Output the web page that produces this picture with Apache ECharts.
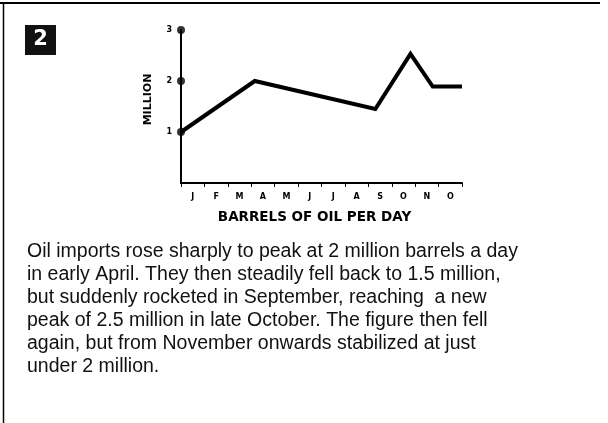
<!DOCTYPE html>
<html>
<head>
<meta charset="utf-8">
<script src="https://cdn.jsdelivr.net/npm/echarts@6/dist/echarts.min.js"></script>
<style>
  html, body { margin: 0; padding: 0; background: #fff; }
  #chart { width: 608px; height: 423px; }
</style>
</head>
<body>
<div id="chart"></div>
<script>
// month initials on the x axis
var months = ['J', 'F', 'M', 'A', 'M', 'J', 'J', 'A', 'S', 'O', 'N', 'O']
// line points: position in months from start of January, value in million barrels
var pointMonths = [0, 3.15, 8.3, 9.8, 10.75, 12]
var pointValues = [1, 2, 1.45, 2.53, 1.89, 1.89]
// dots on the y axis
var yDots = [1, 2, 3]
var figureNumber = '2'
var caption = [
  'Oil imports rose sharply to peak at 2 million barrels a day',
  'in early April. They then steadily fell back to 1.5 million,',
  'but suddenly rocketed in September, reaching  a new',
  'peak of 2.5 million in late October. The figure then fell',
  'again, but from November onwards stabilized at just',
  'under 2 million.'
]

var chart = echarts.init(document.getElementById('chart'))

var lineData = pointMonths.map(function (m, i) { return [m, pointValues[i]] })
var dotData = yDots.map(function (v) { return [0, v] })

var option = {
  animation: false,
  backgroundColor: '#fff',
  grid: { left: 181, right: 146, top: 30, bottom: 240 },
  xAxis: [
    {
      type: 'category',
      data: months,
      boundaryGap: true,
      axisLine: { lineStyle: { color: '#000', width: 2 } },
      axisTick: { show: true, length: 4, lineStyle: { color: '#000', width: 1 } },
      axisLabel: {
        color: '#000',
        fontSize: 8,
        fontWeight: 'bold',
        fontFamily: 'DejaVu Sans',
        margin: 10
      },
      name: 'BARRELS OF OIL PER DAY',
      nameLocation: 'middle',
      nameGap: 27,
      nameTextStyle: {
        color: '#000',
        fontSize: 13.5,
        fontWeight: 'bold',
        fontFamily: 'DejaVu Sans',
        padding: [0, 14, 0, 0]
      }
    },
    {
      type: 'value',
      min: 0,
      max: 12,
      show: false
    }
  ],
  yAxis: {
    type: 'value',
    min: 0,
    max: 3,
    interval: 1,
    axisLine: { show: true, lineStyle: { color: '#000', width: 2 } },
    axisTick: { show: false },
    splitLine: { show: false },
    axisLabel: {
      color: '#000',
      fontSize: 8,
      fontWeight: 'bold',
      fontFamily: 'DejaVu Sans',
      margin: 9,
      formatter: function (v) { return v === 0 ? '' : v }
    },
    name: 'MILLION',
    nameLocation: 'middle',
    nameGap: 27,
    nameTextStyle: {
      color: '#000',
      fontSize: 11,
      fontWeight: 'bold',
      fontFamily: 'DejaVu Sans',
      padding: [0, 0, 0, 14]
    }
  },
  series: [
    {
      type: 'line',
      xAxisIndex: 1,
      data: lineData,
      showSymbol: false,
      clip: false,
      lineStyle: { color: '#000', width: 4, join: 'miter' }
    },
    {
      type: 'scatter',
      xAxisIndex: 1,
      data: dotData,
      symbolSize: 8,
      clip: false,
      itemStyle: { color: '#000' }
    }
  ],
  graphic: [
    {
      type: 'line',
      shape: { x1: 0, y1: 3, x2: 600, y2: 3 },
      style: { stroke: '#000', lineWidth: 2 }
    },
    {
      type: 'line',
      shape: { x1: 3.5, y1: 3, x2: 3.5, y2: 423 },
      style: { stroke: '#000', lineWidth: 1.5 }
    },
    {
      type: 'rect',
      shape: { x: 25, y: 25, width: 31, height: 30 },
      style: { fill: '#111' }
    },
    {
      type: 'text',
      x: 40.5,
      y: 40,
      style: {
        text: figureNumber,
        fill: '#fff',
        font: 'bold 21px "DejaVu Sans"',
        textAlign: 'center',
        textVerticalAlign: 'middle'
      }
    },
    {
      type: 'text',
      x: 27,
      y: 240,
      style: {
        text: caption.join('\n'),
        fill: '#111',
        font: '19.5px "Liberation Sans"',
        lineHeight: 23
      }
    }
  ]
}

chart.setOption(option)
</script>
</body>
</html>
